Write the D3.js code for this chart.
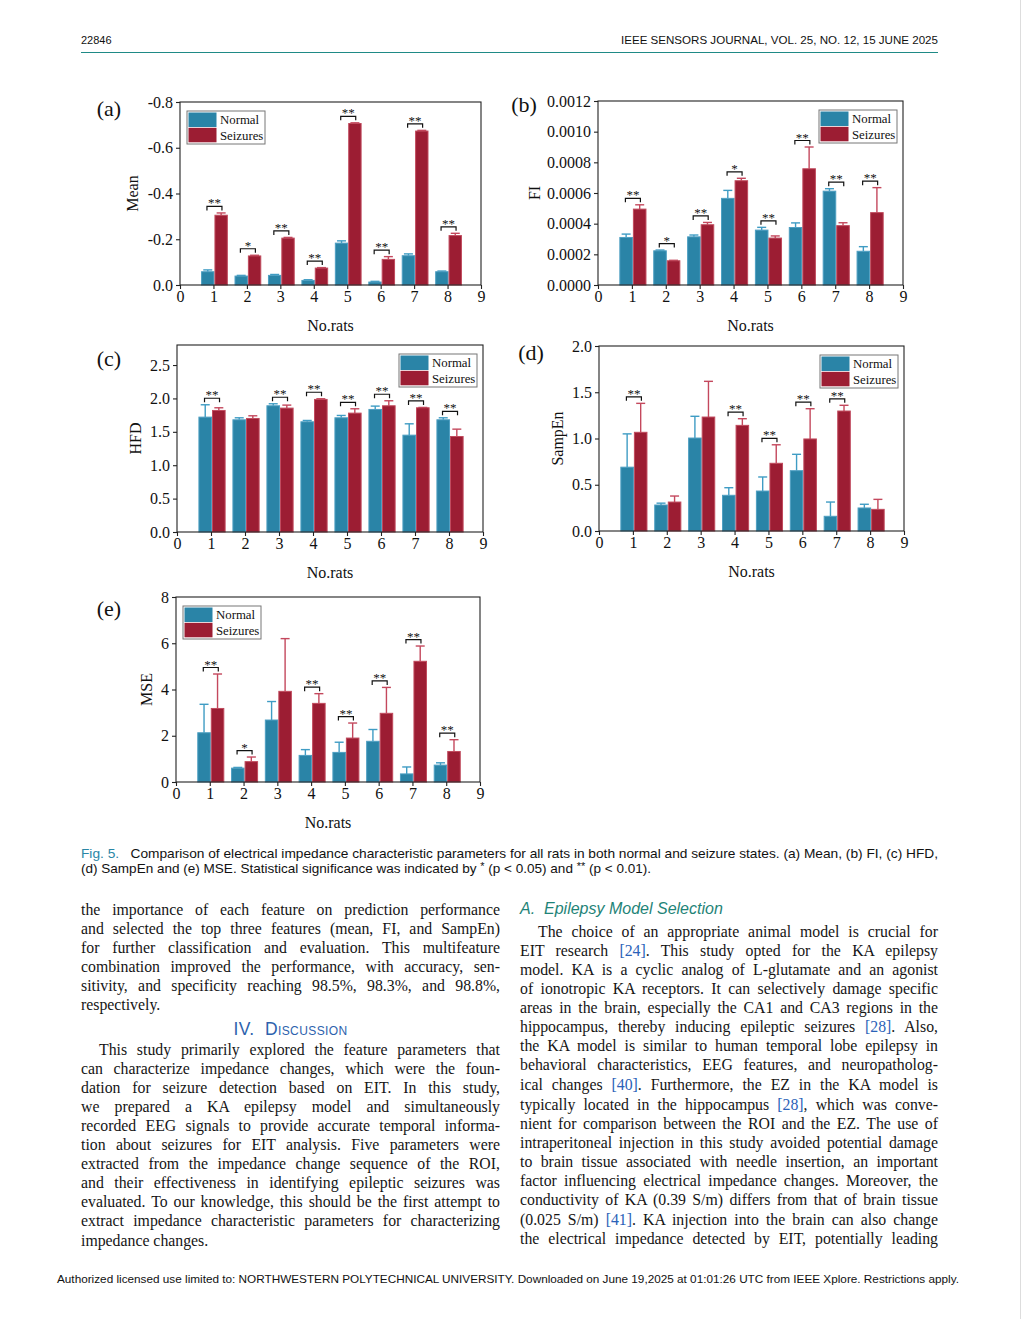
<!DOCTYPE html>
<html>
<head>
<meta charset="utf-8">
<script src="https://cdn.jsdelivr.net/npm/d3@7"></script>
<style>
body{margin:0;background:#fff;}
#page{position:relative;width:1022px;height:1319px;overflow:hidden;background:#fff;}
#page svg{position:absolute;left:0;top:0;}
.ln{position:absolute;font-family:"Liberation Serif","Times New Roman",serif;font-size:15.8px;white-space:nowrap;
    text-align:justify;text-align-last:justify;line-height:19px;height:19px;color:#151515;}
.ln.last{text-align-last:left;}
.ref{color:#2a62b8;}
.hd{position:absolute;white-space:nowrap;line-height:20px;height:20px;}
</style>
</head>
<body>
<div id="page"></div>
<script>
// x categories
const rats = [1, 2, 3, 4, 5, 6, 7, 8];
const xTicks = [0, 1, 2, 3, 4, 5, 6, 7, 8, 9];

// (a) Mean
const meanNormal    = [-0.058, -0.039, -0.042, -0.020, -0.183, -0.013, -0.128, -0.058];
const meanNormalErr = [0.008, 0.003, 0.004, 0.003, 0.010, 0.003, 0.008, 0.003];
const meanSeiz      = [-0.305, -0.127, -0.205, -0.074, -0.706, -0.112, -0.673, -0.216];
const meanSeizErr   = [0.010, 0.003, 0.003, 0.002, 0.003, 0.012, 0.003, 0.010];
const meanSig       = ['**', '*', '**', '**', '**', '**', '**', '**'];

// (b) FI
const fiNormal    = [0.000310, 0.000223, 0.000314, 0.000565, 0.000358, 0.000375, 0.000612, 0.000220];
const fiNormalErr = [0.000022, 0.000005, 0.000012, 0.000052, 0.000018, 0.000030, 0.000016, 0.000030];
const fiSeiz      = [0.000495, 0.000158, 0.000393, 0.000680, 0.000306, 0.000758, 0.000387, 0.000472];
const fiSeizErr   = [0.000028, 0.000003, 0.000015, 0.000016, 0.000014, 0.000142, 0.000019, 0.000163];
const fiSig       = ['**', '*', '**', '*', '**', '**', '**', '**'];

// (c) HFD
const hfdNormal    = [1.72, 1.68, 1.89, 1.65, 1.71, 1.835, 1.45, 1.68];
const hfdNormalErr = [0.185, 0.03, 0.03, 0.02, 0.035, 0.05, 0.17, 0.03];
const hfdSeiz      = [1.82, 1.70, 1.855, 1.985, 1.78, 1.89, 1.86, 1.43];
const hfdSeizErr   = [0.04, 0.04, 0.045, 0.01, 0.065, 0.075, 0.005, 0.11];
const hfdSig       = ['**', '', '**', '**', '**', '**', '**', '**'];

// (d) SampEn
const sampNormal    = [0.69, 0.281, 1.005, 0.386, 0.432, 0.652, 0.159, 0.249];
const sampNormalErr = [0.36, 0.02, 0.235, 0.082, 0.152, 0.177, 0.154, 0.04];
const sampSeiz      = [1.067, 0.313, 1.232, 1.142, 0.732, 0.995, 1.297, 0.234];
const sampSeizErr   = [0.313, 0.065, 0.386, 0.072, 0.2, 0.327, 0.062, 0.108];
const sampSig       = ['**', '', '', '**', '**', '**', '**', ''];

// (e) MSE
const mseNormal    = [2.13, 0.60, 2.68, 1.15, 1.28, 1.76, 0.35, 0.73];
const mseNormalErr = [1.23, 0.03, 0.80, 0.25, 0.44, 0.51, 0.30, 0.10];
const mseSeiz      = [3.18, 0.88, 3.92, 3.40, 1.90, 2.97, 5.22, 1.32];
const mseSeizErr   = [1.49, 0.20, 2.28, 0.42, 0.65, 1.12, 0.66, 0.51];
const mseSig       = ['**', '*', '', '**', '**', '**', '**', '**'];

const seriesNames = ['Normal', 'Seizures'];

const C_NORM = '#2a84a7', C_NORM_EDGE = '#4e9fc2', C_NORM_ERR = '#3f9cc4';
const C_SEIZ = '#9c1d33', C_SEIZ_EDGE = '#c04a5d', C_SEIZ_ERR = '#c4485d';
const SERIF = '"Liberation Serif","Times New Roman",serif';
const SANS = '"Liberation Sans",Arial,Helvetica,sans-serif';

const svg = d3.select('#page').append('svg').attr('width', 1022).attr('height', 1319);

const panels = [
  {lab:'(a)', labX:109, labY:116, title:'Mean', titleOff:42, x0:180, x1:481, y0:102, y1:285,
   domain:[0,-0.8], ticks:[0,-0.2,-0.4,-0.6,-0.8], fmt:d => (d === 0 ? '0.0' : d.toFixed(1)),
   normal:meanNormal, normalErr:meanNormalErr, seiz:meanSeiz, seizErr:meanSeizErr, sig:meanSig, legend:'left'},
  {lab:'(b)', labX:524, labY:112, title:'FI', titleOff:58, x0:598, x1:903, y0:101, y1:285,
   domain:[0,0.0012], ticks:[0,0.0002,0.0004,0.0006,0.0008,0.0010,0.0012], fmt:d => d.toFixed(4),
   normal:fiNormal, normalErr:fiNormalErr, seiz:fiSeiz, seizErr:fiSeizErr, sig:fiSig, legend:'right'},
  {lab:'(c)', labX:109, labY:366, title:'HFD', titleOff:36, x0:177, x1:483, y0:345, y1:532,
   domain:[0,2.8], ticks:[0,0.5,1,1.5,2,2.5], fmt:d => d.toFixed(1),
   normal:hfdNormal, normalErr:hfdNormalErr, seiz:hfdSeiz, seizErr:hfdSeizErr, sig:hfdSig, legend:'right'},
  {lab:'(d)', labX:531, labY:360, title:'SampEn', titleOff:36, x0:599, x1:904, y0:346, y1:531,
   domain:[0,2], ticks:[0,0.5,1,1.5,2], fmt:d => d.toFixed(1),
   normal:sampNormal, normalErr:sampNormalErr, seiz:sampSeiz, seizErr:sampSeizErr, sig:sampSig, legend:'right'},
  {lab:'(e)', labX:109, labY:616, title:'MSE', titleOff:24, x0:176, x1:480, y0:597, y1:782,
   domain:[0,8], ticks:[0,2,4,6,8], fmt:d3.format('d'),
   normal:mseNormal, normalErr:mseNormalErr, seiz:mseSeiz, seizErr:mseSeizErr, sig:mseSig, legend:'left'}
];

function drawPanel(p){
  const g = svg.append('g');
  const x = d3.scaleLinear().domain([0, 9]).range([p.x0, p.x1]);
  const y = d3.scaleLinear().domain(p.domain).range([p.y1, p.y0]);
  const dir = Math.sign(p.domain[1]);
  const off = 0.03, bw = 0.4;

  const rows = rats.map((r, i) => ({
    r: r, sig: p.sig[i],
    bars: [
      {v: p.normal[i], e: p.normal[i] + dir * p.normalErr[i], x0: r + off - bw, fill: C_NORM, edge: C_NORM_EDGE, ec: C_NORM_ERR},
      {v: p.seiz[i],   e: p.seiz[i] + dir * p.seizErr[i],     x0: r + off,      fill: C_SEIZ, edge: C_SEIZ_EDGE, ec: C_SEIZ_ERR}
    ]
  }));
  const bars = rows.flatMap(d => d.bars);

  // error bars first so bar covers the bottom of the stem
  const eb = g.selectAll('g.err').data(bars).enter().append('g').attr('class', 'err');
  eb.append('line')
    .attr('x1', d => (x(d.x0) + x(d.x0 + bw)) / 2).attr('x2', d => (x(d.x0) + x(d.x0 + bw)) / 2)
    .attr('y1', d => y(d.v)).attr('y2', d => y(d.e))
    .attr('stroke', d => d.ec).attr('stroke-width', 1.4);
  eb.append('line')
    .attr('x1', d => (x(d.x0) + x(d.x0 + bw)) / 2 - 4.5).attr('x2', d => (x(d.x0) + x(d.x0 + bw)) / 2 + 4.5)
    .attr('y1', d => y(d.e)).attr('y2', d => y(d.e))
    .attr('stroke', d => d.ec).attr('stroke-width', 1.4);

  g.selectAll('rect.bar').data(bars).enter().append('rect').attr('class', 'bar')
    .attr('x', d => x(d.x0) + 0.5)
    .attr('width', d => x(d.x0 + bw) - x(d.x0) - 1)
    .attr('y', d => Math.min(y(0), y(d.v)))
    .attr('height', d => Math.abs(y(0) - y(d.v)))
    .attr('fill', d => d.fill).attr('stroke', d => d.edge).attr('stroke-width', 1);

  // significance brackets
  const sigRows = rows.filter(d => d.sig);
  const sg = g.selectAll('g.sig').data(sigRows).enter().append('g').attr('class', 'sig');
  const topOf = d => Math.min(y(d.bars[0].e), y(d.bars[1].e)) - 6.5;
  sg.append('path')
    .attr('d', d => {
      const cx = x(d.r + off), yy = topOf(d);
      return `M${cx - 7.5},${yy + 4}V${yy}H${cx + 7.5}V${yy + 4}`;
    })
    .attr('fill', 'none').attr('stroke', '#111').attr('stroke-width', 1.2);
  sg.append('text')
    .attr('x', d => x(d.r + off)).attr('y', d => topOf(d) + 1)
    .attr('text-anchor', 'middle').attr('font-family', SERIF).attr('font-size', 13)
    .attr('fill', '#111')
    .text(d => d.sig);

  // frame
  g.append('rect').attr('x', p.x0).attr('y', p.y0).attr('width', p.x1 - p.x0).attr('height', p.y1 - p.y0)
    .attr('fill', 'none').attr('stroke', '#222').attr('stroke-width', 1.1);

  const ay = g.append('g').attr('transform', `translate(${p.x0},0)`)
    .call(d3.axisLeft(y).tickValues(p.ticks).tickFormat(p.fmt).tickSize(4).tickPadding(3));
  const ax = g.append('g').attr('transform', `translate(0,${p.y1})`)
    .call(d3.axisBottom(x).tickValues(xTicks).tickFormat(d3.format('d')).tickSize(4).tickPadding(2));
  [ay, ax].forEach(a => {
    a.select('.domain').remove();
    a.selectAll('line').attr('stroke', '#222').attr('stroke-width', 1.1);
    a.selectAll('text').attr('font-family', SERIF).attr('font-size', 16).attr('fill', '#111');
  });

  g.append('text').attr('x', (p.x0 + p.x1) / 2).attr('y', p.y1 + 46)
    .attr('text-anchor', 'middle').attr('font-family', SERIF).attr('font-size', 16).attr('fill', '#111')
    .text('No.rats');
  g.append('text')
    .attr('transform', `translate(${p.x0 - p.titleOff},${(p.y0 + p.y1) / 2}) rotate(-90)`)
    .attr('text-anchor', 'middle').attr('font-family', SERIF).attr('font-size', 16).attr('fill', '#111')
    .text(p.title);
  g.append('text').attr('x', p.labX).attr('y', p.labY).attr('text-anchor', 'middle')
    .attr('font-family', SERIF).attr('font-size', 22).attr('fill', '#111').text(p.lab);

  // legend
  const lw = 78, lh = 33;
  const lx = p.legend === 'left' ? p.x0 + 7 : p.x1 - 6 - lw;
  const ly = p.y0 + 9;
  const lg = g.append('g').attr('transform', `translate(${lx},${ly})`);
  lg.append('rect').attr('width', lw).attr('height', lh).attr('fill', '#fff')
    .attr('stroke', '#777').attr('stroke-width', 1);
  lg.selectAll('rect.sw').data(seriesNames).enter().append('rect').attr('class', 'sw')
    .attr('x', 1.5).attr('y', (d, i) => 1.5 + i * 15.3).attr('width', 28).attr('height', 14.5)
    .attr('fill', (d, i) => i ? C_SEIZ : C_NORM);
  lg.selectAll('text').data(seriesNames).enter().append('text')
    .attr('x', 33).attr('y', (d, i) => 13 + i * 15.5)
    .attr('font-family', SERIF).attr('font-size', 12.8).attr('fill', '#111')
    .text(d => d);
}
panels.forEach(drawPanel);

// page header
svg.append('text').attr('x', 81).attr('y', 44).attr('font-family', SANS).attr('font-size', 11).attr('fill', '#111').text('22846');
svg.append('text').attr('x', 938).attr('y', 44).attr('text-anchor', 'end').attr('font-family', SANS).attr('font-size', 11)
  .attr('fill', '#111').attr('textLength', 317).attr('lengthAdjust', 'spacingAndGlyphs')
  .text('IEEE SENSORS JOURNAL, VOL. 25, NO. 12, 15 JUNE 2025');
svg.append('line').attr('x1', 81).attr('x2', 938).attr('y1', 52.5).attr('y2', 52.5)
  .attr('stroke', '#1f8a86').attr('stroke-width', 1.2);
svg.append('line').attr('x1', 1020.5).attr('x2', 1020.5).attr('y1', 0).attr('y2', 1319)
  .attr('stroke', '#ddd').attr('stroke-width', 1);

// caption
const cap1 = svg.append('text').attr('x', 81).attr('y', 857.5).attr('font-family', SANS).attr('font-size', 12.4)
  .attr('fill', '#111').attr('textLength', 857).attr('lengthAdjust', 'spacingAndGlyphs');
cap1.append('tspan').attr('fill', '#2a86a6').text('Fig. 5.');
cap1.append('tspan').text('\u00a0\u00a0 Comparison of electrical impedance characteristic parameters for all rats in both normal and seizure states. (a) Mean, (b) FI, (c) HFD,');
const cap2 = svg.append('text').attr('x', 81).attr('y', 872.5).attr('font-family', SANS).attr('font-size', 12.4)
  .attr('fill', '#111').attr('textLength', 570).attr('lengthAdjust', 'spacingAndGlyphs');
cap2.append('tspan').text('(d) SampEn and (e) MSE. Statistical significance was indicated by ');
cap2.append('tspan').attr('font-size', 10).attr('dy', -3).text('*');
cap2.append('tspan').attr('dy', 3).text(' (p < 0.05) and ');
cap2.append('tspan').attr('font-size', 10).attr('dy', -3).text('**');
cap2.append('tspan').attr('dy', 3).text(' (p < 0.01).');

// footer
svg.append('text').attr('x', 57).attr('y', 1283).attr('font-family', SANS).attr('font-size', 11.2).attr('fill', '#111')
  .attr('textLength', 902).attr('lengthAdjust', 'spacingAndGlyphs')
  .text('Authorized licensed use limited to: NORTHWESTERN POLYTECHNICAL UNIVERSITY. Downloaded on June 19,2025 at 01:01:26 UTC from IEEE Xplore.  Restrictions apply.');

// body text
const page = d3.select('#page');
const leftLines = [
  [910, 'the importance of each feature on prediction performance'],
  [929, 'and selected the top three features (mean, FI, and SampEn)'],
  [948, 'for further classification and evaluation. This multifeature'],
  [967, 'combination improved the performance, with accuracy, sen-'],
  [986, 'sitivity, and specificity reaching 98.5%, 98.3%, and 98.8%,'],
  [1005, 'respectively.', 'last'],
  [1050, 'This study primarily explored the feature parameters that', 'indent'],
  [1069, 'can characterize impedance changes, which were the foun-'],
  [1088, 'dation for seizure detection based on EIT. In this study,'],
  [1107, 'we prepared a KA epilepsy model and simultaneously'],
  [1126, 'recorded EEG signals to provide accurate temporal informa-'],
  [1145, 'tion about seizures for EIT analysis. Five parameters were'],
  [1164, 'extracted from the impedance change sequence of the ROI,'],
  [1183, 'and their effectiveness in identifying epileptic seizures was'],
  [1202, 'evaluated. To our knowledge, this should be the first attempt to'],
  [1221, 'extract impedance characteristic parameters for characterizing'],
  [1241, 'impedance changes.', 'last']
];
const rightLines = [
  [932, 'The choice of an appropriate animal model is crucial for', 'indent'],
  [951, 'EIT research <span class="ref">[24]</span>. This study opted for the KA epilepsy'],
  [970, 'model. KA is a cyclic analog of L-glutamate and an agonist'],
  [989, 'of ionotropic KA receptors. It can selectively damage specific'],
  [1008, 'areas in the brain, especially the CA1 and CA3 regions in the'],
  [1027, 'hippocampus, thereby inducing epileptic seizures <span class="ref">[28]</span>. Also,'],
  [1046, 'the KA model is similar to human temporal lobe epilepsy in'],
  [1065, 'behavioral characteristics, EEG features, and neuropatholog-'],
  [1085, 'ical changes <span class="ref">[40]</span>. Furthermore, the EZ in the KA model is'],
  [1105, 'typically located in the hippocampus <span class="ref">[28]</span>, which was conve-'],
  [1124, 'nient for comparison between the ROI and the EZ. The use of'],
  [1143, 'intraperitoneal injection in this study avoided potential damage'],
  [1162, 'to brain tissue associated with needle insertion, an important'],
  [1181, 'factor influencing electrical impedance changes. Moreover, the'],
  [1200, 'conductivity of KA (0.39 S/m) differs from that of brain tissue'],
  [1220, '(0.025 S/m) <span class="ref">[41]</span>. KA injection into the brain can also change'],
  [1239, 'the electrical impedance detected by EIT, potentially leading']
];
function putLines(lines, left, right){
  lines.forEach(l => {
    const ind = l[2] === 'indent' ? 18 : 0;
    page.append('div').attr('class', 'ln' + (l[2] === 'last' ? ' last' : ''))
      .style('left', (left + ind) + 'px').style('width', (right - left - ind) + 'px')
      .style('top', (l[0] - 10) + 'px').html(l[1]);
  });
}
putLines(leftLines, 81, 500);
putLines(rightLines, 520, 938);

page.append('div').attr('class', 'hd')
  .style('left', '81px').style('width', '419px').style('top', '1019px')
  .style('text-align', 'center').style('font-family', SANS).style('font-size', '17.5px')
  .style('font-variant', 'small-caps').style('color', '#2d62ad').style('letter-spacing', '0.4px')
  .html('IV.&nbsp;&nbsp;Discussion');
page.append('div').attr('class', 'hd')
  .style('left', '520px').style('top', '899px')
  .style('font-family', SANS).style('font-size', '16px').style('font-style', 'italic').style('color', '#1f8478')
  .html('A.&nbsp;&nbsp;Epilepsy Model Selection');
</script>
</body>
</html>
